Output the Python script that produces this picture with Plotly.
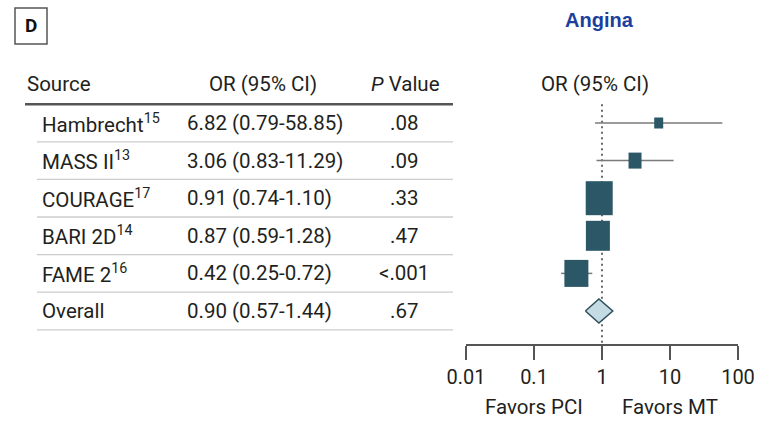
import numpy as np
import plotly.graph_objects as go

# ---- data ----
studies = ["Hambrecht", "MASS II", "COURAGE", "BARI 2D", "FAME 2", "Overall"]
refs = ["15", "13", "17", "14", "16", ""]
odds_ratio = [6.82, 3.06, 0.91, 0.87, 0.42, 0.90]
ci_low = [0.79, 0.83, 0.74, 0.59, 0.25, 0.57]
ci_high = [58.85, 11.29, 1.10, 1.28, 0.72, 1.44]
p_values = [".08", ".09", ".33", ".47", "<.001", ".67"]
tick_values = [0.01, 0.1, 1, 10, 100]
tick_labels = ["0.01", "0.1", "1", "10", "100"]

# ---- style ----
W, H = 761, 425
FONT = "Roboto"
TXT = "#231f20"
BOX = "#2b5767"
box_w = [9, 13, 27, 24, 24]
box_h = [11, 16, 34, 30, 27]
row0_px, row_px = 123, 37.6      # pixel centre of first row, row pitch
axis_px = 344                    # pixel y of the x axis line
table_left, table_right = 25, 453


def px(x):
    return x / W


rows = list(range(len(studies)))
lx = np.log10(odds_ratio)
llo = np.log10(ci_low)
lhi = np.log10(ci_high)

fig = go.Figure()

# whiskers for individual studies
wx, wy = [], []
for i in rows[:-1]:
    wx += [llo[i], lhi[i], None]
    wy += [i, i, None]
fig.add_trace(go.Scatter(x=wx, y=wy, mode="lines",
                         line=dict(color="#7a7a7a", width=1.5),
                         hoverinfo="skip", showlegend=False))

# pooled estimate diamond
k = rows[-1]
dh = 12 / row_px
fig.add_trace(go.Scatter(
    x=[llo[k], lx[k], lhi[k], lx[k], llo[k]],
    y=[k, k - dh, k, k + dh, k],
    mode="lines", fill="toself", fillcolor="#c5dbe4",
    line=dict(color="#2d4f5c", width=1.5),
    hoverinfo="skip", showlegend=False))

shapes = []
# study squares
for i in rows[:-1]:
    shapes.append(dict(type="rect", xref="x", yref="y",
                       xsizemode="pixel", ysizemode="pixel",
                       xanchor=lx[i], yanchor=i,
                       x0=-box_w[i] / 2, x1=box_w[i] / 2,
                       y0=-box_h[i] / 2, y1=box_h[i] / 2,
                       fillcolor=BOX, line=dict(width=0)))

# reference line at OR = 1
shapes.append(dict(type="line", xref="x", yref="y", x0=0, x1=0,
                   y0=-0.5, y1=(axis_px - row0_px) / row_px,
                   line=dict(color="#444444", width=1.6, dash="2px,3.5px"),
                   layer="below"))

# table rules
shapes.append(dict(type="line", xref="paper", yref="y",
                   x0=px(table_left), x1=px(table_right), y0=-0.5, y1=-0.5,
                   line=dict(color="#555555", width=2.5)))
for i in rows:
    shapes.append(dict(type="line", xref="paper", yref="y",
                       x0=px(37), x1=px(table_right), y0=i + 0.5, y1=i + 0.5,
                       line=dict(color="#cccccc", width=1.3)))

# panel letter box
shapes.append(dict(type="rect", xref="paper", yref="paper",
                   x0=px(15), x1=px(47), y0=1 - 44 / H, y1=1 - 8 / H,
                   line=dict(color="#555555", width=1.5)))

ann = []
tf = dict(family=FONT, size=20.5, color=TXT)
hdr_y = -1.05
ann += [
    dict(text="Source", x=px(25), y=hdr_y, xanchor="left"),
    dict(text="OR (95% CI)", x=px(263), y=hdr_y, xanchor="center"),
    dict(text="<i>P</i> Value", x=px(405), y=hdr_y, xanchor="center"),
    dict(text="OR (95% CI)", x=px(595), y=hdr_y, xanchor="center"),
]
for i in rows:
    label = studies[i] + (f"<sup>{refs[i]}</sup>" if refs[i] else "")
    ann.append(dict(text=label, x=px(40), y=i, xanchor="left"))
    ann.append(dict(text=f"{odds_ratio[i]:.2f} ({ci_low[i]:.2f}-{ci_high[i]:.2f})",
                    x=px(185), y=i, xanchor="left"))
    ann.append(dict(text=p_values[i], x=px(404), y=i, xanchor="center"))
for a in ann:
    a.update(xref="paper", yref="y", yanchor="middle", showarrow=False, font=tf)

ann += [
    dict(text="Favors PCI", xref="x", yref="paper", x=-1, y=1 - 407 / H,
         showarrow=False, font=tf, xanchor="center", yanchor="middle"),
    dict(text="Favors MT", xref="x", yref="paper", x=1, y=1 - 407 / H,
         showarrow=False, font=tf, xanchor="center", yanchor="middle"),
    dict(text="<b>Angina</b>", xref="paper", yref="paper", x=px(599), y=1 - 20 / H,
         showarrow=False, xanchor="center", yanchor="middle",
         font=dict(family="Liberation Sans", size=20, color="#1c3f9e")),
    dict(text="<b>D</b>", xref="paper", yref="paper", x=px(31), y=1 - 26 / H,
         showarrow=False, xanchor="center", yanchor="middle",
         font=dict(family=FONT, size=19, color="#111111")),
]

y_top = -row0_px / row_px
y_bot = (axis_px - row0_px) / row_px

fig.update_layout(
    width=W, height=H,
    margin=dict(l=0, r=0, t=0, b=0, autoexpand=False),
    paper_bgcolor="white", plot_bgcolor="white",
    shapes=shapes, annotations=ann,
    xaxis=dict(domain=[px(466), px(738)], range=[-2, 2],
               tickvals=list(np.log10(tick_values)), ticktext=tick_labels,
               ticks="outside", ticklen=14, tickwidth=1.5, tickcolor="#555555",
               showline=True, linewidth=1.5, linecolor="#555555",
               showgrid=False, zeroline=False, fixedrange=True,
               automargin=False,
               tickfont=dict(family=FONT, size=20, color=TXT)),
    yaxis=dict(domain=[1 - axis_px / H, 1], range=[y_bot, y_top],
               visible=False, fixedrange=True, automargin=False),
)

fig.write_html("out.html")
